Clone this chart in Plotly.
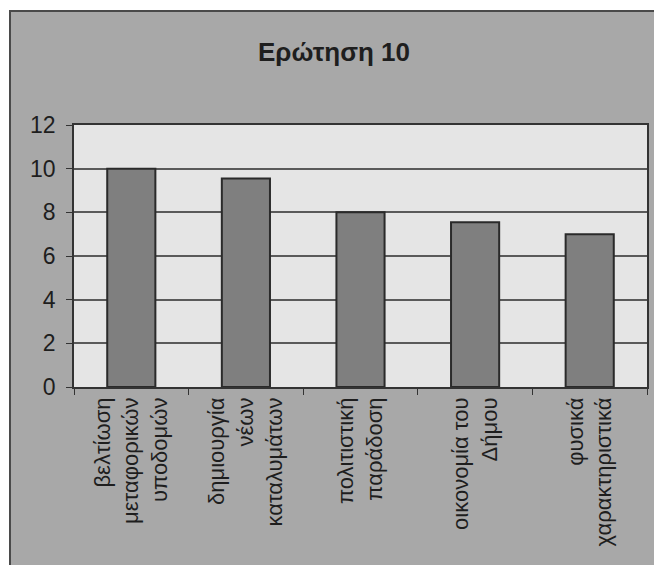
import plotly.graph_objects as go

categories = [
    "βελτίωση<br>μεταφορικών<br>υποδομών",
    "δημιουργία<br>νέων<br>καταλυμάτων",
    "πολιτιστική<br>παράδοση",
    "οικονομία του<br>Δήμου",
    "φυσικά<br>χαρακτηριστικά",
]
values = [10, 9.55, 8, 7.55, 7]
y_ticks = [0, 2, 4, 6, 8, 10, 12]
title_text = "Ερώτηση 10"

# page body has an 8px margin; figure sized to fit the window
OFF = 8
W, H = 662 - OFF, 565 - OFF
L = 74 - OFF
R = W - (647 - OFF)
T = 125 - OFF
B = H - (387 - OFF)
pw = W - L - R
ph = H - T - B

def px_x(px):
    return (px - OFF - L) / pw

def px_y(py):
    return (H - B - (py - OFF)) / ph

fig = go.Figure()
fig.add_trace(go.Bar(
    x=categories,
    y=values,
    marker=dict(color="#7f7f7f", line=dict(color="#2a2a2a", width=2)),
    width=0.42,
))

fig.update_layout(
    width=W, height=H,
    margin=dict(l=L, r=R, t=T, b=B, pad=0),
    paper_bgcolor="#a8a8a8",
    plot_bgcolor="#e5e5e5",
    showlegend=False,
    font=dict(family="Liberation Sans, Arial, sans-serif", color="#1e1e1e", size=22),
    title=dict(
        text="<b>" + title_text + "</b>",
        x=(334 - OFF) / W, xref="container", xanchor="center",
        y=1 - (52 - OFF) / H, yref="container", yanchor="middle",
        font=dict(size=26, color="#1e1e1e"),
    ),
    bargap=0.58,
    shapes=[
        dict(type="rect", xref="paper", yref="paper",
             x0=px_x(0), x1=px_x(10), y0=px_y(700), y1=px_y(0),
             fillcolor="white", line=dict(width=0), layer="above"),
        dict(type="rect", xref="paper", yref="paper",
             x0=px_x(0), x1=px_x(700), y0=px_y(11), y1=px_y(0),
             fillcolor="white", line=dict(width=0), layer="above"),
        dict(type="rect", xref="paper", yref="paper",
             x0=px_x(10), x1=px_x(700), y0=px_y(700), y1=px_y(11),
             fillcolor="rgba(0,0,0,0)", line=dict(color="#4a4a4a", width=2),
             layer="above"),
    ],
)

fig.update_yaxes(
    range=[0, 12], tickvals=y_ticks, ticktext=[str(v) for v in y_ticks],
    showgrid=True, gridcolor="#5a5a5a", gridwidth=1.5,
    showline=True, linecolor="#333333", linewidth=1.5, mirror=True,
    ticks="outside", ticklen=6, tickcolor="#333333",
    ticklabelstandoff=6,
    tickfont=dict(size=23), zeroline=False,
)
fig.update_xaxes(
    showline=True, linecolor="#333333", linewidth=1.5, mirror=True,
    ticks="outside", ticklen=6, tickcolor="#333333", tickson="boundaries",
    tickangle=-90, tickfont=dict(size=22),
)

fig.write_html("out.html")
